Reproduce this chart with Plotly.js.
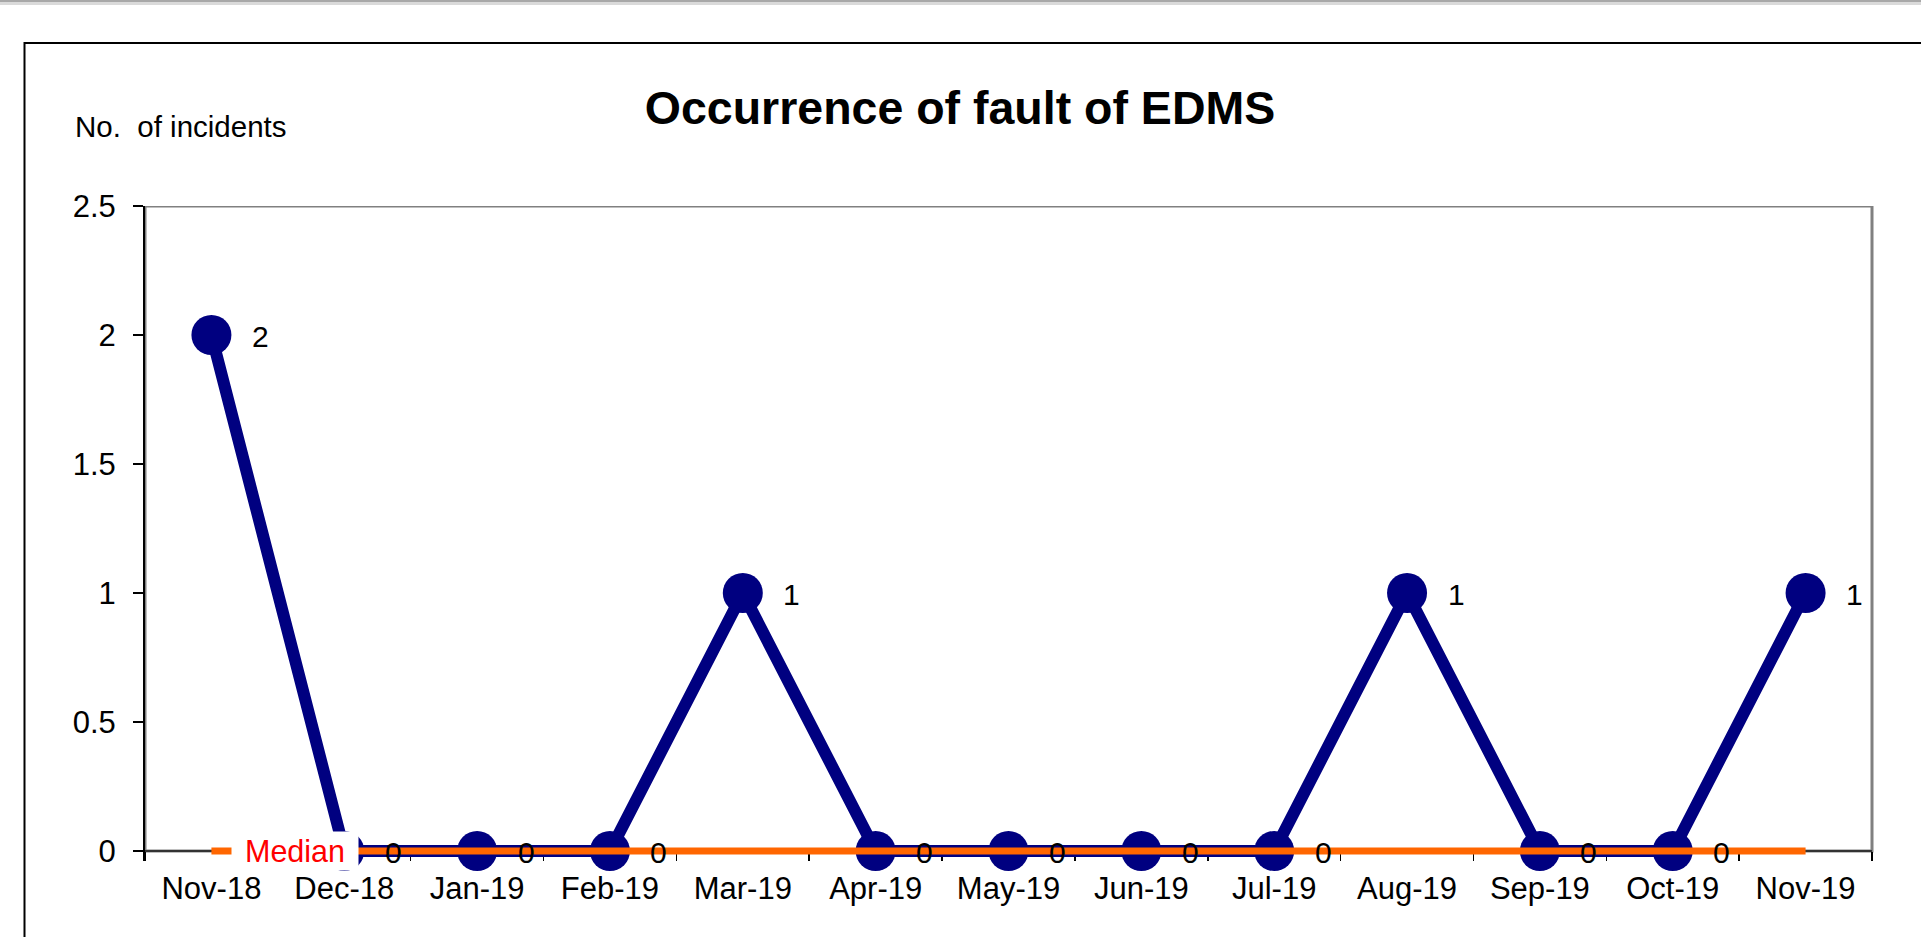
<!DOCTYPE html>
<html>
<head>
<meta charset="utf-8">
<script src="https://cdn.plot.ly/plotly-3.0.1.min.js"></script>
<style>
  html, body { margin: 0; padding: 0; background: #ffffff; }
  #chart { width: 1921px; height: 937px; }
</style>
</head>
<body>
<div id="chart"></div>
<script>
// ---- data ----
const categories = ["Nov-18","Dec-18","Jan-19","Feb-19","Mar-19","Apr-19","May-19","Jun-19","Jul-19","Aug-19","Sep-19","Oct-19","Nov-19"];
const incidents  = [2, 0, 0, 0, 1, 0, 0, 0, 0, 1, 0, 0, 1];
const median     = [0, 0, 0, 0, 0, 0, 0, 0, 0, 0, 0, 0, 0];
const yTickVals  = [0, 0.5, 1, 1.5, 2, 2.5];
const yTickText  = ["0", "0.5", "1", "1.5", "2", "2.5"];
const chartTitle = "Occurrence of fault of EDMS";
const yTitle     = "No.  of incidents";
const medianLabel = "Median";

// ---- layout geometry (pixels) ----
const W = 1921, H = 937;
const EXT = 10;                              // px of plot area kept below the zero line (so lines at 0 are not clipped)
const M = { l: 145, r: 49, t: 206, b: 86 - EXT };
const PW = W - M.l - M.r, PH = H - M.t - M.b;
const yMax = 2.5;
const yMin = -yMax * EXT / (PH - EXT);
const px2x = p => (p - M.l) / PW;          // page px -> paper x
const py2y = p => (H - M.b - p) / PH;      // page px -> paper y

const FONT = '"Liberation Sans", Arial, Helvetica, sans-serif';

const traces = [
  {
    type: 'scatter', mode: 'lines+markers',
    x: categories, y: incidents,
    line: { color: '#000080', width: 12 },
    marker: { color: '#000080', size: 40 },
    cliponaxis: false,
    hoverinfo: 'skip', showlegend: false
  },
  {
    type: 'scatter', mode: 'lines',
    x: categories, y: median,
    line: { color: '#FF6600', width: 7 },
    cliponaxis: false,
    hoverinfo: 'skip', showlegend: false
  }
];

const annotations = incidents.map((v, i) => ({
  x: categories[i], y: v, xref: 'x', yref: 'y',
  text: String(v), showarrow: false,
  xshift: 49, yshift: -1,
  font: { family: FONT, size: 30, color: '#000000' }
}));

annotations.push({
  x: categories[0], y: median[0], xref: 'x', yref: 'y',
  text: medianLabel, showarrow: false,
  xshift: 84, yshift: 0,
  width: 126, height: 38, bgcolor: '#ffffff', borderpad: 0,
  font: { family: FONT, size: 30.5, color: '#FF0000' }
});

annotations.push({
  x: px2x(73), y: py2y(126), xref: 'paper', yref: 'paper',
  xanchor: 'left', yanchor: 'middle',
  text: yTitle, showarrow: false,
  font: { family: FONT, size: 29.5, color: '#000000' }
});

const shapes = [
  // plot area frame (grey top/right)
  { type: 'rect', xref: 'paper', yref: 'y', x0: 0, x1: 1, y0: 0, y1: yMax,
    line: { color: '#808080', width: 3 }, layer: 'below' },
  // outer chart box (left and top edges)
  { type: 'path', xref: 'paper', yref: 'paper',
    path: 'M ' + px2x(24.5) + ' ' + py2y(945) + ' L ' + px2x(24.5) + ' ' + py2y(43) + ' L ' + px2x(1930) + ' ' + py2y(43),
    line: { color: '#000000', width: 2 } },
  // window shadow at the very top
  { type: 'rect', xref: 'paper', yref: 'paper', x0: px2x(-5), x1: px2x(1930), y0: py2y(2), y1: py2y(-2),
    fillcolor: '#a8a8a8', line: { width: 0 } },
  { type: 'rect', xref: 'paper', yref: 'paper', x0: px2x(-5), x1: px2x(1930), y0: py2y(5), y1: py2y(2),
    fillcolor: '#dadada', line: { width: 0 } }
];

const layout = {
  width: W, height: H,
  margin: M,
  paper_bgcolor: '#ffffff', plot_bgcolor: '#ffffff',
  font: { family: FONT, size: 30, color: '#000000' },
  title: {
    text: '<b>' + chartTitle + '</b>',
    xref: 'container', yref: 'container',
    x: 960 / W, y: 1 - 108 / H, xanchor: 'center', yanchor: 'middle',
    font: { family: FONT, size: 46.5, color: '#000000' }
  },
  xaxis: {
    type: 'category', range: [-0.5, categories.length - 0.5],
    anchor: 'free', position: EXT / PH,
    layer: 'below traces',
    tickson: 'boundaries', ticks: 'outside', ticklen: 9, tickwidth: 1.5, tickcolor: '#000000',
    showline: true, linecolor: '#333333', linewidth: 2,
    showgrid: false, zeroline: false, fixedrange: true,
    tickfont: { family: FONT, size: 31, color: '#000000' },
    ticklabelstandoff: 10
  },
  yaxis: {
    range: [yMin, yMax], tickvals: yTickVals, ticktext: yTickText,
    layer: 'below traces',
    ticks: 'outside', ticklen: 10, tickwidth: 1.5, tickcolor: '#000000',
    showline: true, linecolor: '#000000', linewidth: 2,
    showgrid: false, zeroline: false, fixedrange: true,
    tickfont: { family: FONT, size: 31, color: '#000000' },
    ticklabelstandoff: 11
  },
  annotations: annotations,
  shapes: shapes,
  showlegend: false
};

Plotly.newPlot('chart', traces, layout, { displayModeBar: false, staticPlot: true });
</script>
</body>
</html>
